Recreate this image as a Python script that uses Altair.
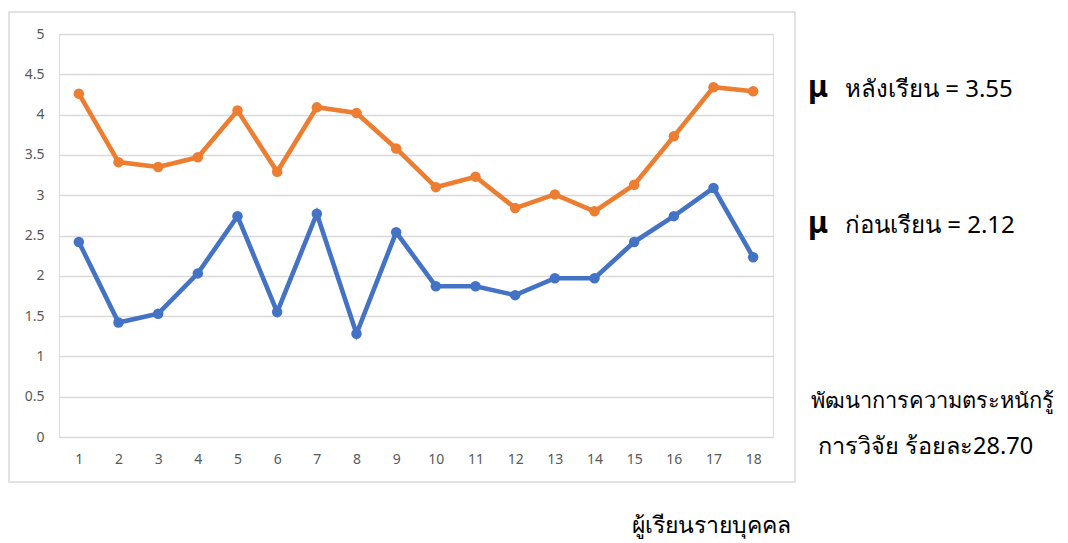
import altair as alt
import pandas as pd

students = list(range(1, 19))
after_scores = [4.26, 3.41, 3.35, 3.47, 4.05, 3.29, 4.09, 4.02, 3.58,
                3.10, 3.23, 2.84, 3.01, 2.80, 3.13, 3.73, 4.34, 4.29]
before_scores = [2.42, 1.42, 1.53, 2.03, 2.74, 1.55, 2.77, 1.28, 2.54,
                 1.87, 1.87, 1.76, 1.97, 1.97, 2.42, 2.74, 3.09, 2.23]
series_names = ["หลังเรียน", "ก่อนเรียน"]
series_colors = ["#ED7D31", "#4472C4"]
y_ticks = [0, 0.5, 1, 1.5, 2, 2.5, 3, 3.5, 4, 4.5, 5]

rows = []
for s, a, b in zip(students, after_scores, before_scores):
    rows.append({"student": s, "score": a, "series": series_names[0]})
    rows.append({"student": s, "score": b, "series": series_names[1]})
df = pd.DataFrame(rows)

FONT = "Noto Sans"
W, H = 714, 403

x_enc = alt.X("student:O", scale=alt.Scale(type="point", padding=0.5),
              axis=alt.Axis(title=None, labelAngle=0, domain=False, ticks=False,
                            grid=False, labelColor="#595959", labelFont=FONT,
                            labelFontSize=14, labelPadding=15))
y_enc = alt.Y("score:Q", scale=alt.Scale(domain=[0, 5], nice=False),
              axis=alt.Axis(title=None, values=y_ticks, format=".1~f", domain=False,
                            ticks=False, gridColor="#d9d9d9", gridWidth=1.3,
                            labelColor="#595959", labelFont=FONT,
                            labelFontSize=14, labelPadding=15))
color_enc = alt.Color("series:N", scale=alt.Scale(domain=series_names, range=series_colors),
                      legend=None)

base = alt.Chart(df)
lines = base.mark_line(strokeWidth=4.6).encode(
    x=x_enc, y=y_enc, color=color_enc, detail="series:N")
points = base.mark_point(filled=True, opacity=1, size=110).encode(
    x="student:O", y="score:Q", color=color_enc)

frame = alt.Chart(pd.DataFrame({"a": [0]})).mark_rect(
    fill=None, stroke="#d9d9d9", strokeWidth=1.5).encode(
    x=alt.value(-50), x2=alt.value(736), y=alt.value(-22), y2=alt.value(448))

def txt(text, x, y, size=23, weight="normal", align="left", baseline="alphabetic"):
    return alt.Chart(pd.DataFrame({"t": [text]})).mark_text(
        align=align, baseline=baseline, font=FONT, fontSize=size,
        fontWeight=weight, color="#000000").encode(
        text="t:N", x=alt.value(x), y=alt.value(y))

annotations = [
    txt("μ", 749, 63, size=30, weight="bold"),
    txt("หลังเรียน = 3.55", 786, 63, size=24),
    txt("μ", 749, 199, size=30, weight="bold"),
    txt("ก่อนเรียน = 2.12", 786, 199, size=24),
    txt("พัฒนาการความตระหนักรู้", 752, 374, size=21.8),
    txt("การวิจัย ร้อยละ28.70", 759, 420, size=23.5),
    txt("ผู้เรียนรายบุคคล", 573, 499),
]

chart = alt.layer(frame, lines, points, *annotations).properties(
    width=W, height=H,
    autosize=alt.AutoSizeParams(type="none"),
    padding={"left": 51, "top": 26, "right": 287, "bottom": 106},
).configure_view(stroke=None).configure(background="white")

chart.save("out.html", embed_options={"renderer": "svg", "actions": False})
